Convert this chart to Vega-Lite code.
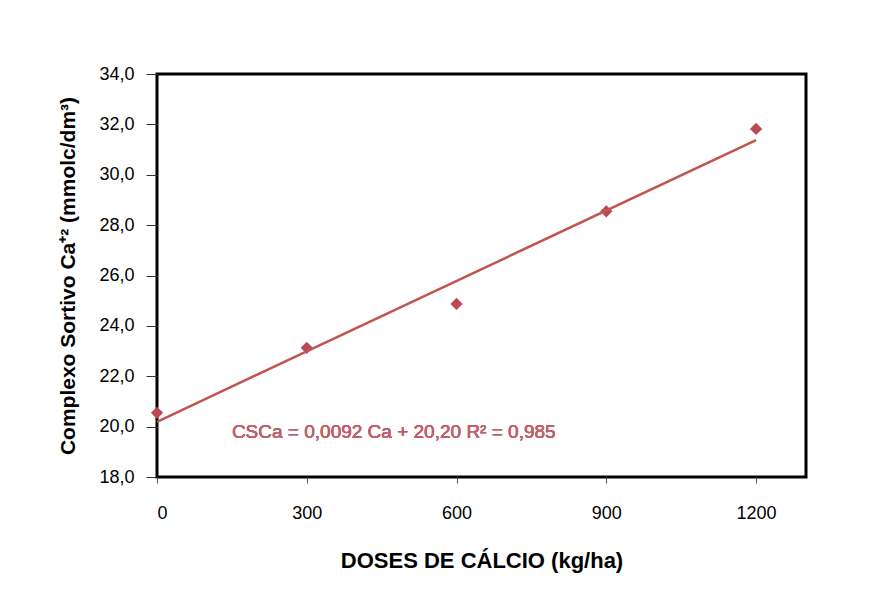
{
  "$schema": "https://vega.github.io/schema/vega-lite/v6.json",
  "width": 649,
  "height": 403,
  "autosize": {"type": "none"},
  "padding": {"left": 157, "top": 74, "right": 65, "bottom": 123},
  "background": "white",
  "config": {
    "locale": {"number": {"decimal": ",", "thousands": ".", "grouping": [3], "currency": ["R$ ", ""]}},
    "view": {"stroke": "black", "strokeWidth": 3},
    "font": "Liberation Sans"
  },
  "data": {
    "values": [
      {"dose": 0, "csca": 20.55},
      {"dose": 300, "csca": 23.13},
      {"dose": 600, "csca": 24.87},
      {"dose": 900, "csca": 28.55},
      {"dose": 1200, "csca": 31.82}
    ]
  },
  "encoding": {
    "x": {
      "field": "dose", "type": "quantitative",
      "scale": {"domain": [0, 1300], "nice": false, "zero": false},
      "axis": {
        "values": [0, 300, 600, 900, 1200], "format": "d",
        "domain": false, "grid": false,
        "tickSize": 6, "tickColor": "#555", "tickWidth": 1,
        "labelFont": "Liberation Sans", "labelFontSize": 18, "labelColor": "black", "labelPadding": 21,
        "title": "DOSES DE CÁLCIO (kg/ha)", "titleFont": "Liberation Sans", "titleFontSize": 22,
        "titleFontWeight": "bold", "titleColor": "black", "titlePadding": 28
      }
    },
    "y": {
      "field": "csca", "type": "quantitative",
      "scale": {"domain": [18, 34], "nice": false, "zero": false},
      "axis": {
        "values": [18, 20, 22, 24, 26, 28, 30, 32, 34], "format": ".1f",
        "domain": false, "grid": false,
        "tickSize": 11, "tickColor": "#333", "tickWidth": 1,
        "labelFont": "Liberation Sans", "labelFontSize": 18, "labelColor": "black", "labelPadding": 12,
        "title": "Complexo Sortivo Ca⁺² (mmolc/dm³)", "titleFont": "Liberation Sans", "titleFontSize": 21,
        "titleFontWeight": "bold", "titleColor": "black", "titlePadding": 20
      }
    }
  },
  "layer": [
    {
      "mark": {"type": "point", "shape": "diamond", "filled": true, "size": 150, "color": "#b94a55", "opacity": 1}
    },
    {
      "transform": [{"regression": "csca", "on": "dose", "extent": [0, 1200]}],
      "mark": {"type": "line", "color": "#c0544f", "strokeWidth": 2.5}
    },
    {
      "mark": {"type": "text", "align": "left", "baseline": "middle", "font": "Liberation Sans", "fontSize": 19, "color": "#c0606a"},
      "encoding": {
        "x": {"datum": 150, "type": "quantitative"},
        "y": {"datum": 19.8, "type": "quantitative"},
        "text": {"value": "CSCa =  0,0092 Ca + 20,20 R² = 0,985"}
      }
    }
  ]
}
